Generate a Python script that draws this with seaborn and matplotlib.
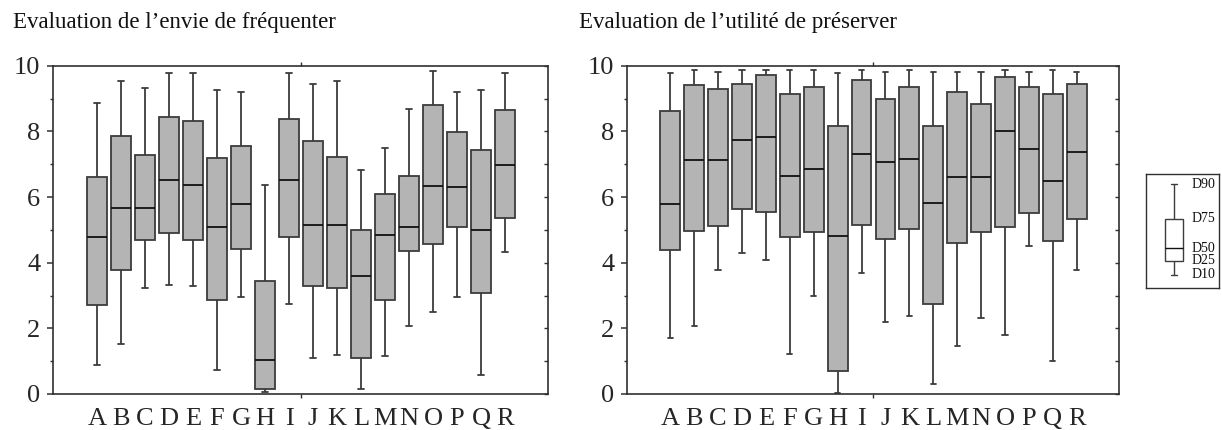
import numpy as np
import pandas as pd
import matplotlib
matplotlib.use("Agg")
import matplotlib.pyplot as plt
import seaborn as sns

categories = list("ABCDEFGHIJKLMNOPQR")

# deciles: D10, D25, D50, D75, D90
envie_d10 = [0.89, 1.51, 3.23, 3.33, 3.28, 0.72, 2.96, 0.06, 2.75, 1.10, 1.20, 0.15, 1.15, 2.08, 2.49, 2.96, 0.58, 4.32]
envie_d25 = [2.70, 3.79, 4.68, 4.90, 4.68, 2.87, 4.41, 0.15, 4.78, 3.28, 3.23, 1.09, 2.87, 4.37, 4.58, 5.09, 3.07, 5.35]
envie_d50 = [4.79, 5.68, 5.68, 6.51, 6.36, 5.10, 5.78, 1.04, 6.51, 5.15, 5.15, 3.59, 4.84, 5.10, 6.35, 6.31, 4.99, 6.98]
envie_d75 = [6.61, 7.86, 7.29, 8.43, 8.33, 7.18, 7.55, 3.44, 8.38, 7.72, 7.23, 4.99, 6.09, 6.65, 8.80, 7.97, 7.44, 8.64]
envie_d90 = [8.85, 9.52, 9.32, 9.79, 9.79, 9.27, 9.21, 6.36, 9.79, 9.43, 9.52, 6.83, 7.50, 8.69, 9.85, 9.21, 9.27, 9.79]

util_d10 = [1.70, 2.06, 3.78, 4.30, 4.09, 1.23, 3.00, 0.03, 3.68, 2.19, 2.38, 0.30, 1.45, 2.33, 1.81, 4.51, 1.02, 3.78]
util_d25 = [4.40, 4.98, 5.13, 5.65, 5.55, 4.77, 4.93, 0.70, 5.14, 4.72, 5.03, 2.74, 4.61, 4.93, 5.08, 5.50, 4.67, 5.34]
util_d50 = [5.80, 7.12, 7.12, 7.74, 7.84, 6.64, 6.86, 4.82, 7.32, 7.06, 7.17, 5.81, 6.60, 6.60, 8.00, 7.47, 6.48, 7.37]
util_d75 = [8.62, 9.40, 9.30, 9.45, 9.72, 9.15, 9.35, 8.15, 9.56, 8.99, 9.35, 8.15, 9.20, 8.83, 9.67, 9.35, 9.15, 9.45]
util_d90 = [9.77, 9.87, 9.82, 9.87, 9.87, 9.87, 9.87, 9.77, 9.87, 9.82, 9.87, 9.82, 9.82, 9.82, 9.87, 9.82, 9.87, 9.82]

legend_labels = ["D10", "D25", "D50", "D75", "D90"]
legend_vals = [0.0, 1.4, 2.7, 5.6, 9.1]

titles = ["Evaluation de l\u2019envie de fr\u00e9quenter",
          "Evaluation de l\u2019utilit\u00e9 de pr\u00e9server"]


def sample_from_deciles(d10, d25, d50, d75, d90):
    # 9 points whose linear percentiles give exactly D10/D25/D50/D75/D90
    return [d10, d10, d25, (d25 + d50) / 2, d50, (d50 + d75) / 2, d75, d90, d90]


def build_frame(cats, d10, d25, d50, d75, d90):
    rows = []
    for c, a, b, m, q, e in zip(cats, d10, d25, d50, d75, d90):
        for v in sample_from_deciles(a, b, m, q, e):
            rows.append({"cat": c, "val": v})
    return pd.DataFrame(rows)


sns.set_theme(style="ticks")
plt.rcParams["font.family"] = ["Liberation Serif", "DejaVu Serif"]

W, H = 1222, 430
fig = plt.figure(figsize=(W / 100, H / 100), dpi=100)

FILL = "#b4b4b4"
EDGE = "#3c3c3c"
SPINE = "#303030"

panels = [
    (build_frame(categories, envie_d10, envie_d25, envie_d50, envie_d75, envie_d90), 53, 548, (-1.83, 18.79)),
    (build_frame(categories, util_d10, util_d25, util_d50, util_d75, util_d90), 627, 1119, (-1.81, 18.77)),
]

ytop_px, ybot_px = 65.7, 394.0
for i, (df, x0, x1, xl) in enumerate(panels):
    ax = fig.add_axes([x0 / W, (H - ybot_px) / H, (x1 - x0) / W, (ybot_px - ytop_px) / H])
    sns.boxplot(data=df, x="cat", y="val", order=categories, whis=(10, 90),
                width=0.83, color=FILL, saturation=1, linecolor=EDGE,
                linewidth=1.3, fliersize=0, showfliers=False,
                medianprops={"color": "#111111", "linewidth": 1.3},
                capwidths=0.22, ax=ax)
    ax.set_xlim(*xl)
    ax.set_ylim(0, 10)
    ax.set_xlabel("")
    ax.set_ylabel("")
    for s in ax.spines.values():
        s.set_visible(True)
        s.set_color(SPINE)
        s.set_linewidth(1.2)
    # y ticks (left, outward)
    ax.set_yticks(range(0, 11, 2))
    ax.set_yticks(range(1, 11, 2), minor=True)
    ax.tick_params(axis="y", which="major", direction="out", length=4, width=1.1,
                   color=SPINE, labelsize=19, pad=5, left=True, right=False)
    ax.tick_params(axis="y", which="minor", direction="out", length=2.5, width=1.0,
                   color=SPINE, left=True, right=False)
    # x ticks: labels only, plus a middle tick top and bottom
    ax.set_xticks(range(len(categories)))
    ax.set_xticklabels(categories)
    ax.set_xticks([(xl[0] + xl[1]) / 2], minor=True)
    ax.tick_params(axis="x", which="major", length=0, labelsize=19, pad=10)
    ax.tick_params(axis="x", which="minor", direction="out", length=3, width=1.0,
                   color=SPINE, bottom=True, top=True)
    # right-side inward ticks at each integer
    ax2 = ax.twinx()
    ax2.set_ylim(0, 10)
    ax2.set_yticks(range(0, 11))
    ax2.tick_params(axis="y", direction="in", length=3, width=1.0, color=SPINE,
                    labelright=False, right=True, left=False)
    for s in ax2.spines.values():
        s.set_visible(False)
    fig.text((13 if i == 0 else 579) / W, 1 - 28 / H, titles[i],
             fontsize=16.5, ha="left", va="baseline", color="#111111")

# legend schematic
lx0, lx1, ly0, ly1 = 1146, 1219, 174, 288
lax = fig.add_axes([lx0 / W, (H - ly1) / H, (lx1 - lx0) / W, (ly1 - ly0) / H])
leg_df = pd.DataFrame({"cat": ["k"] * 9, "val": sample_from_deciles(*legend_vals)})
sns.boxplot(data=leg_df, x="cat", y="val", whis=(10, 90), width=0.8,
            color="white", saturation=1, linecolor=EDGE, linewidth=1.0,
            showfliers=False, medianprops={"color": "#111111", "linewidth": 1.0},
            capwidths=0.3, ax=lax)
lax.set_xlim(-1.245, 1.999)
lax.set_ylim(-1.3, 10.1)
lax.set_xticks([])
lax.set_yticks([])
lax.set_xlabel("")
lax.set_ylabel("")
for s in lax.spines.values():
    s.set_visible(True)
    s.set_color(SPINE)
    s.set_linewidth(1.0)
for lab, v in zip(legend_labels, legend_vals):
    lax.text(0.76, v, lab, fontsize=10, ha="left", va="center", color="#111111")

fig.savefig("out.png", dpi=100, facecolor="white")
